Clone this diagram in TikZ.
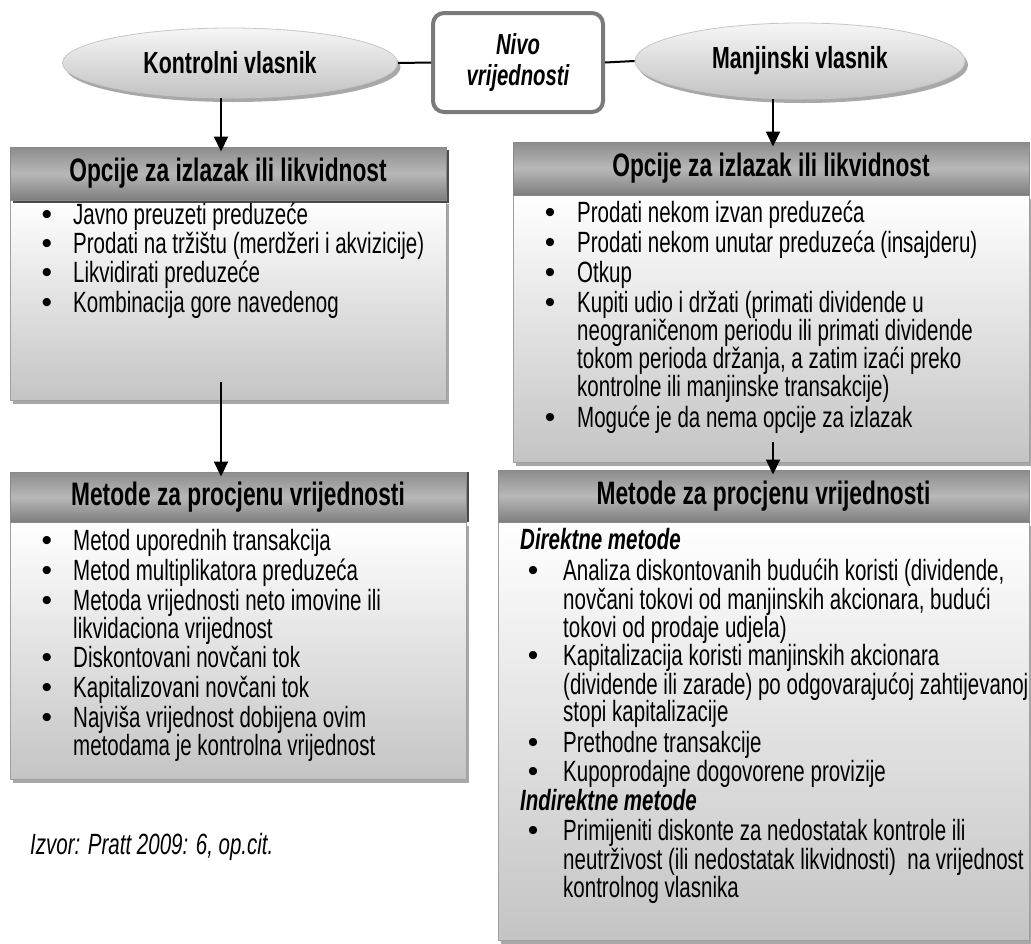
\documentclass[tikz,border=0pt]{standalone}
\usepackage{fontspec}
\setmainfont{Liberation Sans}[FakeStretch=0.70]
\newfontfamily\bulfont{Liberation Sans}
\usetikzlibrary{shapes.geometric,shadows,arrows.meta,calc}
\definecolor{hdrtop}{HTML}{8C8C8C}
\definecolor{hdrmid}{HTML}{B8B8B8}
\definecolor{hdrbot}{HTML}{7E7E7E}
\definecolor{hdrline}{HTML}{8A8A8A}
\definecolor{bodybot}{HTML}{C4C4C4}
\definecolor{bodyline}{HTML}{A0A0A0}
\definecolor{shadowc}{HTML}{A8A8A8}
\definecolor{darkshadow}{HTML}{4A4A4A}
\definecolor{elltop}{HTML}{F6F6F6}
\definecolor{ellbot}{HTML}{C2C2C2}
\definecolor{nivoline}{HTML}{7A7A7A}
\begin{document}
\begin{tikzpicture}[x=1pt,y=-1pt,
  hdr/.style={draw=hdrline, line width=1pt, top color=hdrtop, bottom color=hdrbot, middle color=hdrmid,
    inner sep=0pt, font=\fontsize{32.5}{34}\selectfont\bfseries},
  body/.style={draw=bodyline, line width=1pt, top color=white, bottom color=bodybot, inner sep=0pt,
    drop shadow={shadow xshift=3pt, shadow yshift=-4pt, fill=shadowc, opacity=1}},
  ell/.style={ellipse, draw=gray!45, line width=0.8pt, top color=elltop, bottom color=ellbot, inner sep=0pt,
    font=\fontsize{30.5}{32}\selectfont\bfseries,
    drop shadow={shadow xshift=3pt, shadow yshift=-4pt, fill=shadowc, opacity=1}},
  nivo/.style={draw=nivoline, line width=4pt, rounded corners=11pt, fill=white, inner sep=0pt,
    align=center, font=\fontsize{29}{31}\selectfont\bfseries\itshape},
  txt/.style={anchor=mid west, inner sep=0pt, font=\fontsize{29.3}{31}\selectfont},
  sub/.style={anchor=mid west, inner sep=0pt, font=\fontsize{29.3}{31}\selectfont\bfseries\itshape},
  bul/.style={anchor=mid, inner sep=0pt, font=\bulfont\fontsize{30}{31}\selectfont},
  arr/.style={line width=2pt, -{Triangle[width=14pt,length=15pt]}, shorten >=-5pt},
  conn/.style={line width=2pt}
]
\useasboundingbox (0,0) rectangle (1031,943);

% ---- bodies ----
\node[body, minimum width=436pt, minimum height=200pt] (bL1) at (228,300) {};
\node[body, minimum width=516pt, minimum height=267pt] (bR1) at (771,328.5) {};
\node[body, minimum width=456pt, minimum height=257pt] (bL2) at (238,650.5) {};
\node[body, minimum width=531pt, minimum height=418pt] (bR2) at (763.5,731) {};

% ---- headers ----
\node[hdr, minimum width=436pt, minimum height=53pt,
  drop shadow={shadow xshift=3pt, shadow yshift=-3pt, fill=darkshadow, opacity=1}] (hL1) at (228,173.5) {Opcije za izlazak ili likvidnost};
\node[hdr, minimum width=516pt, minimum height=53pt] (hR1) at (771,168.5) {Opcije za izlazak ili likvidnost};
\node[hdr, minimum width=456pt, minimum height=50pt,
  drop shadow={shadow xshift=3pt, shadow yshift=0pt, fill=darkshadow, opacity=1}] (hL2) at (238,497) {Metode za procjenu vrijednosti};
\node[hdr, minimum width=531pt, minimum height=52pt] (hR2) at (763.5,496) {Metode za procjenu vrijednosti};

% ---- top row ----
\node[ell, minimum width=335pt, minimum height=70pt] (elL) at (230,63) {Kontrolni vlasnik};
\node[ell, minimum width=330pt, minimum height=76pt] (elR) at (800,61) {Manjinski vlasnik};
\node[nivo, minimum width=170pt, minimum height=99pt] (nivo) at (518,62.5) {Nivo\\vrijednosti};
\draw[conn] (elL.east) -- (nivo.west);
\draw[conn] (nivo.east) -- (elR.west);

% ---- arrows ----
\coordinate (a1) at (221,0);
\coordinate (a3) at (773,0);
\coordinate (a2s) at (221,382);
\coordinate (a4s) at (773,442);
\draw[arr] (elL.south -| a1) -- (hL1.north -| a1);
\draw[arr] (elR.south -| a3) -- (hR1.north -| a3);
\draw[arr] (a2s) -- (hL2.north -| a2s);
\draw[arr] (a4s) -- (hR2.north -| a4s);

% ---- left box 1 ----
\node[bul] (lb1) at (47,222) {•};
\node[txt] (lt1) at (73,222) {Javno preuzeti preduzeće};
\node[bul] (lb2) at (47,251) {•};
\node[txt] (lt2) at (73,251) {Prodati na tržištu (merdžeri i akvizicije)};
\node[bul] (lb3) at (47,280) {•};
\node[txt] (lt3) at (73,280) {Likvidirati preduzeće};
\node[bul] (lb4) at (47,310) {•};
\node[txt] (lt4) at (73,310) {Kombinacija gore navedenog};

% ---- right box 1 ----
\node[bul] (rb1) at (550,220) {•};
\node[txt] (rt1) at (577,220) {Prodati nekom izvan preduzeća};
\node[bul] (rb2) at (550,250) {•};
\node[txt] (rt2) at (577,250) {Prodati nekom unutar preduzeća (insajderu)};
\node[bul] (rb3) at (550,280) {•};
\node[txt] (rt3) at (577,280) {Otkup};
\node[bul] (rb4) at (550,310) {•};
\node[txt] (rt4) at (577,310) {Kupiti udio i držati (primati dividende u};
\node[txt] (rt5) at (577,338) {neograničenom periodu ili primati dividende};
\node[txt] (rt6) at (577,366) {tokom perioda držanja, a zatim izaći preko};
\node[txt] (rt7) at (577,394) {kontrolne ili manjinske transakcije)};
\node[bul] (rb5) at (550,425) {•};
\node[txt] (rt8) at (577,425) {Moguće je da nema opcije za izlazak};

% ---- left box 2 ----
\node[bul] (mb1) at (47,548) {•};
\node[txt] (mt1) at (73,548) {Metod uporednih transakcija};
\node[bul] (mb2) at (47,578) {•};
\node[txt] (mt2) at (73,578) {Metod multiplikatora preduzeća};
\node[bul] (mb3) at (47,608) {•};
\node[txt] (mt3) at (73,608) {Metoda vrijednosti neto imovine ili};
\node[txt] (mt4) at (73,636) {likvidaciona vrijednost};
\node[bul] (mb4) at (47,665) {•};
\node[txt] (mt5) at (73,665) {Diskontovani novčani tok};
\node[bul] (mb5) at (47,695) {•};
\node[txt] (mt6) at (73,695) {Kapitalizovani novčani tok};
\node[bul] (mb6) at (47,725) {•};
\node[txt] (mt7) at (73,725) {Najviša vrijednost dobijena ovim};
\node[txt] (mt8) at (73,753) {metodama je kontrolna vrijednost};

% ---- right box 2 ----
\node[sub] (ns1) at (520,547) {Direktne metode};
\node[bul] (nb1) at (533,578) {•};
\node[txt] (nt1) at (563,578) {Analiza diskontovanih budućih koristi (dividende,};
\node[txt] (nt2) at (563,607) {novčani tokovi od manjinskih akcionara, budući};
\node[txt] (nt3) at (563,635) {tokovi od prodaje udjela)};
\node[bul] (nb2) at (533,663) {•};
\node[txt] (nt4) at (563,663) {Kapitalizacija koristi manjinskih akcionara};
\node[txt] (nt5) at (563,692) {(dividende ili zarade) po odgovarajućoj zahtijevanoj};
\node[txt] (nt6) at (563,719) {stopi kapitalizacije};
\node[bul] (nb3) at (533,750) {•};
\node[txt] (nt7) at (563,750) {Prethodne transakcije};
\node[bul] (nb4) at (533,779) {•};
\node[txt] (nt8) at (563,779) {Kupoprodajne dogovorene provizije};
\node[sub] (ns2) at (520,808) {Indirektne metode};
\node[bul] (nb5) at (533,838) {•};
\node[txt] (nt9) at (563,838) {Primijeniti diskonte za nedostatak kontrole ili};
\node[txt] (nt10) at (563,867) {neutrživost (ili nedostatak likvidnosti) \ na vrijednost};
\node[txt] (nt11) at (563,895) {kontrolnog vlasnika};

% ---- source ----
\node[txt, font=\fontsize{29.3}{31}\selectfont\itshape] (src) at (30,852) {Izvor: Pratt 2009: 6, op.cit.};
\end{tikzpicture}
\end{document}
